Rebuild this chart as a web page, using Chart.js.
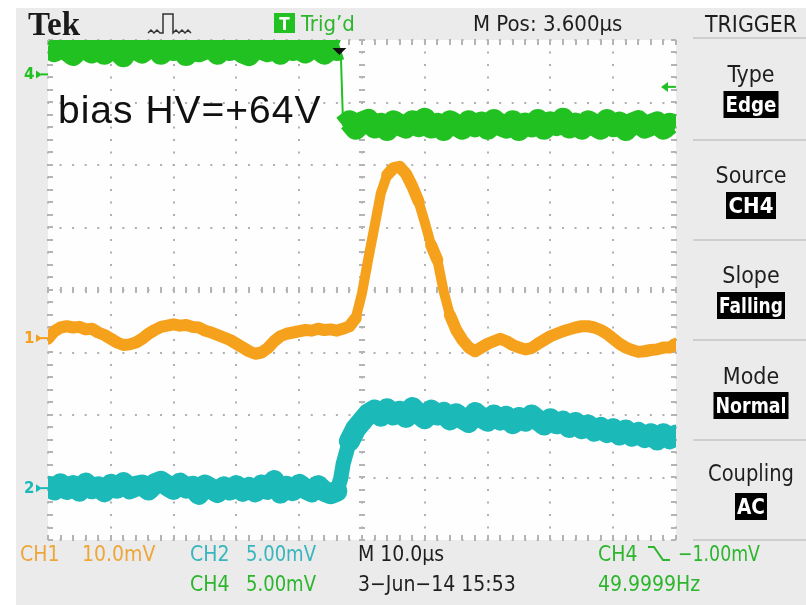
<!DOCTYPE html>
<html>
<head>
<meta charset="utf-8">
<script src="https://cdn.jsdelivr.net/npm/chart.js@4.4.1/dist/chart.umd.min.js"></script>
<style>
  html, body { margin: 0; padding: 0; background: #ffffff; }
  canvas { display: block; }
</style>
</head>
<body>
<canvas id="scope" width="806" height="605"></canvas>
<script>
// time base, microseconds from screen centre (10 us/div)
var timeUs = [
  -50,-49,-48,-47,-46,-45,-44,-43,-42,-41,
  -40,-39,-38,-37,-36,-35,-34,-33,-32,-31,
  -30,-29,-28,-27,-26,-25,-24,-23,-22,-21,
  -20,-19,-18,-17,-16,-15,-14,-13,-12,-11,
  -10,-9,-8,-7,-6,-5,-4,-3.4,
  -3,-2,-1,0,1,2,3,4,5,6,
  7,8,9,10,11,12,13,14,15,16,
  17,18,19,20,21,22,23,24,25,26,
  27,28,29,30,31,32,33,34,35,36,
  37,38,39,40,41,42,43,44,45,46,
  47,48,49,50
];

// trace positions in screen divisions (centre = 0)
var ch4 = [
  3.90,3.82,3.92,3.84,3.76,3.90,3.86,3.80,3.92,3.78,
  3.88,3.84,3.74,3.90,3.86,3.80,3.88,3.92,3.78,3.86,
  3.84,3.90,3.76,3.88,3.82,3.86,3.90,3.78,3.88,3.84,
  3.92,3.80,3.76,3.88,3.86,3.82,3.90,3.78,3.88,3.84,
  3.86,3.80,3.90,3.86,3.78,3.88,3.84,3.86,
  2.62,2.70,2.58,2.68,2.72,2.60,2.66,2.56,2.70,2.64,
  2.60,2.70,2.62,2.74,2.60,2.66,2.56,2.70,2.64,2.58,
  2.70,2.62,2.68,2.58,2.72,2.64,2.60,2.70,2.56,2.66,
  2.62,2.72,2.58,2.68,2.64,2.74,2.60,2.66,2.58,2.70,
  2.64,2.58,2.72,2.62,2.68,2.56,2.66,2.70,2.60,2.64,
  2.68,2.58,2.66,2.62
];

var ch1 = [
  -0.78,-0.66,-0.60,-0.58,-0.60,-0.59,-0.63,-0.62,-0.68,-0.72,
  -0.78,-0.84,-0.88,-0.87,-0.84,-0.78,-0.70,-0.64,-0.59,-0.57,
  -0.55,-0.57,-0.56,-0.59,-0.60,-0.65,-0.68,-0.72,-0.76,-0.80,
  -0.86,-0.92,-0.98,-1.02,-1.00,-0.93,-0.82,-0.74,-0.70,-0.68,
  -0.66,-0.64,-0.65,-0.62,-0.64,-0.63,-0.65,-0.63,
  -0.62,-0.58,-0.45,-0.05,0.50,1.02,1.55,1.84,1.95,1.97,
  1.86,1.66,1.42,1.08,0.72,0.48,-0.02,-0.40,-0.64,-0.80,
  -0.92,-0.98,-0.92,-0.86,-0.82,-0.78,-0.82,-0.88,-0.92,-0.95,
  -0.93,-0.86,-0.80,-0.74,-0.70,-0.66,-0.63,-0.60,-0.58,-0.58,
  -0.60,-0.64,-0.70,-0.78,-0.86,-0.92,-0.96,-0.99,-0.98,-0.96,
  -0.95,-0.92,-0.92,-0.86
];

var ch2 = [
  -3.14,-3.20,-3.10,-3.19,-3.13,-3.22,-3.09,-3.18,-3.15,-3.23,
  -3.11,-3.17,-3.08,-3.18,-3.14,-3.12,-3.20,-3.10,-3.06,-3.13,
  -3.19,-3.09,-3.17,-3.14,-3.27,-3.12,-3.18,-3.24,-3.15,-3.20,
  -3.13,-3.22,-3.16,-3.23,-3.12,-3.19,-3.05,-3.25,-3.14,-3.21,
  -3.11,-3.18,-3.23,-3.13,-3.22,-3.26,-3.22,-3.02,
  -2.78,-2.42,-2.22,-2.10,-1.98,-1.92,-2.02,-1.90,-2.00,-1.94,
  -2.04,-1.88,-1.98,-2.06,-1.92,-2.00,-1.96,-2.08,-1.98,-2.06,
  -2.12,-1.96,-2.04,-2.10,-2.00,-2.08,-2.02,-2.14,-2.04,-2.10,
  -2.00,-2.08,-2.16,-2.06,-2.14,-2.10,-2.20,-2.12,-2.22,-2.16,
  -2.26,-2.20,-2.28,-2.22,-2.32,-2.24,-2.34,-2.28,-2.36,-2.30,
  -2.40,-2.30,-2.38,-2.32
];

var GREEN = '#22c122', ORANGE = '#f5a11c', CYAN = '#1cb9b9';
var TXT_GREEN = '#2db52d', TXT_ORANGE = '#eea63a', TXT_CYAN = '#38b5bd';
var COND = '"Liberation Sans Narrow", "DejaVu Sans Condensed", "Roboto", sans-serif';

function pts(ys) {
  return timeUs.map(function (t, i) { return { x: t, y: ys[i] }; });
}

// thinner stroke on steep edges, like the scope's fast transitions
function edgeWidth(flat, steep, limit) {
  return function (c) {
    return Math.abs(c.p1.parsed.y - c.p0.parsed.y) > limit ? steep : flat;
  };
}

function txt(ctx, s, x, y, size, color, maxW, align, weight) {
  ctx.font = (weight || '') + ' ' + size + 'px ' + COND;
  ctx.fillStyle = color;
  ctx.textAlign = align || 'left';
  ctx.textBaseline = 'alphabetic';
  ctx.fillText(s, x, y, maxW);
}

function boxTxt(ctx, s, cx, top, w) {
  ctx.fillStyle = '#000000';
  ctx.fillRect(cx - w / 2, top, w, 27);
  txt(ctx, s, cx, top + 21, 22, '#ffffff', w - 4, 'center', 'bold');
}

function chMarker(ctx, label, y, color) {
  ctx.fillStyle = color;
  ctx.font = 'bold 15px "DejaVu Sans"';
  ctx.textAlign = 'left';
  ctx.textBaseline = 'middle';
  ctx.fillText(label, 24, y + 1);
  ctx.beginPath();
  ctx.moveTo(36, y - 4); ctx.lineTo(42, y); ctx.lineTo(36, y + 4);
  ctx.closePath(); ctx.fill();
  ctx.fillRect(41, y - 1, 7, 2);
}

var scopePlugin = {
  id: 'scope',
  beforeDraw: function (chart) {
    var ctx = chart.ctx, a = chart.chartArea;
    ctx.save();
    ctx.fillStyle = '#ffffff';
    ctx.fillRect(0, 0, 806, 605);
    ctx.fillStyle = '#ebebeb';
    ctx.fillRect(16, 8, 790, 597);
    ctx.fillStyle = '#fefefe';
    ctx.fillRect(a.left, a.top, a.right - a.left, a.bottom - a.top);
    // menu separators
    ctx.strokeStyle = '#c4c4c4';
    ctx.lineWidth = 1.5;
    [38, 140, 240, 340, 440, 540].forEach(function (y) {
      ctx.beginPath(); ctx.moveTo(693, y); ctx.lineTo(806, y); ctx.stroke();
    });
    ctx.restore();
  },
  beforeDatasetsDraw: function (chart) {
    var ctx = chart.ctx, a = chart.chartArea;
    var xs = chart.scales.x, ys = chart.scales.y;
    ctx.save();
    ctx.fillStyle = '#b4b4b4';
    var x0 = xs.getPixelForValue(0), y0 = ys.getPixelForValue(0);
    for (var t = -50; t <= 50; t += 2) {
      var px = Math.round(xs.getPixelForValue(t));
      ctx.fillRect(px - 1, a.top, 2, 5);
      ctx.fillRect(px - 1, a.bottom - 5, 2, 5);
      ctx.fillRect(px - 1, y0 - 3, 2, 6);
    }
    for (var d = -4; d <= 4.001; d += 0.2) {
      var py = Math.round(ys.getPixelForValue(d));
      ctx.fillRect(a.left, py - 1, 5, 2);
      ctx.fillRect(a.right - 5, py - 1, 5, 2);
      ctx.fillRect(x0 - 3, py - 1, 6, 2);
    }
    ctx.restore();
  },
  afterDatasetsDraw: function (chart) {
    var ctx = chart.ctx, a = chart.chartArea;
    var xs = chart.scales.x, ys = chart.scales.y;
    ctx.save();
    // trigger position
    var tx = xs.getPixelForValue(-3.6);
    ctx.fillStyle = '#111111';
    ctx.beginPath();
    ctx.moveTo(tx - 7, a.top + 8); ctx.lineTo(tx + 7, a.top + 8); ctx.lineTo(tx, a.top + 15);
    ctx.closePath(); ctx.fill();
    // trigger level (CH4, -1.00 mV at 5 mV/div)
    var ty = ys.getPixelForValue(3.45 - 0.2);
    ctx.fillStyle = GREEN;
    ctx.beginPath();
    ctx.moveTo(a.right - 15, ty); ctx.lineTo(a.right - 8, ty - 5); ctx.lineTo(a.right - 8, ty + 5);
    ctx.closePath(); ctx.fill();
    ctx.fillRect(a.right - 9, ty - 1, 9, 2);
    // annotation
    ctx.fillStyle = '#111111';
    ctx.font = '39px "Liberation Sans", Arial, sans-serif';
    ctx.textAlign = 'left';
    ctx.textBaseline = 'alphabetic';
    ctx.letterSpacing = '1px';
    ctx.fillText('bias HV=+64V', 58, 123);
    ctx.letterSpacing = '0px';
    ctx.restore();
  },
  afterDraw: function (chart) {
    var ctx = chart.ctx, ys = chart.scales.y;
    ctx.save();
    // ground markers
    chMarker(ctx, '4', ys.getPixelForValue(3.45), GREEN);
    chMarker(ctx, '1', ys.getPixelForValue(-0.77), ORANGE);
    chMarker(ctx, '2', ys.getPixelForValue(-3.17), CYAN);

    // header
    ctx.font = 'bold 33px "Liberation Serif", "DejaVu Serif", serif';
    ctx.fillStyle = '#1a1a1a';
    ctx.textAlign = 'left';
    ctx.textBaseline = 'alphabetic';
    ctx.fillText('Tek', 28, 35, 55);
    ctx.strokeStyle = '#333333';
    ctx.lineWidth = 1.5;
    ctx.beginPath();
    ctx.moveTo(148, 33); ctx.lineTo(151, 30); ctx.lineTo(154, 33); ctx.lineTo(157, 30);
    ctx.lineTo(160, 33); ctx.lineTo(163, 33); ctx.lineTo(163, 14); ctx.lineTo(173, 14);
    ctx.lineTo(173, 33); ctx.lineTo(176, 30); ctx.lineTo(179, 33); ctx.lineTo(182, 30);
    ctx.lineTo(185, 33); ctx.lineTo(188, 30); ctx.lineTo(191, 33);
    ctx.stroke();
    ctx.fillStyle = GREEN;
    ctx.fillRect(274, 13, 21, 20);
    txt(ctx, 'T', 284.5, 30, 17, '#ffffff', 14, 'center', 'bold');
    txt(ctx, 'Trig\u2019d', 301, 31, 22, TXT_GREEN, 64);
    txt(ctx, 'M Pos: 3.600\u00b5s', 473, 31, 22, '#1e1e1e', 159);
    txt(ctx, 'TRIGGER', 751, 32, 23, '#1e1e1e', 92, 'center');

    // trigger menu
    txt(ctx, 'Type', 751, 82, 23, '#1e1e1e', 60, 'center');
    boxTxt(ctx, 'Edge', 751, 91, 55);
    txt(ctx, 'Source', 751, 183, 23, '#1e1e1e', 72, 'center');
    boxTxt(ctx, 'CH4', 751, 192, 50);
    txt(ctx, 'Slope', 751, 283, 23, '#1e1e1e', 60, 'center');
    boxTxt(ctx, 'Falling', 751, 292, 68);
    txt(ctx, 'Mode', 751, 384, 23, '#1e1e1e', 60, 'center');
    boxTxt(ctx, 'Normal', 751, 392, 75);
    txt(ctx, 'Coupling', 751, 481, 23, '#1e1e1e', 86, 'center');
    boxTxt(ctx, 'AC', 751, 493, 32);

    // readouts
    txt(ctx, 'CH1', 20, 561, 21, TXT_ORANGE, 44);
    txt(ctx, '10.0mV', 82, 561, 21, TXT_ORANGE, 76);
    txt(ctx, 'CH2', 190, 561, 21, TXT_CYAN, 42);
    txt(ctx, '5.00mV', 246, 561, 21, TXT_CYAN, 70);
    txt(ctx, 'M 10.0\u00b5s', 358, 561, 21, '#1e1e1e', 88);
    txt(ctx, 'CH4', 598, 561, 21, TXT_GREEN, 42);
    ctx.strokeStyle = TXT_GREEN;
    ctx.lineWidth = 2;
    ctx.beginPath();
    ctx.moveTo(648, 547); ctx.lineTo(654, 547); ctx.lineTo(663, 560); ctx.lineTo(670, 560);
    ctx.stroke();
    txt(ctx, '\u22121.00mV', 678, 561, 21, TXT_GREEN, 82);
    txt(ctx, 'CH4', 190, 591, 21, TXT_GREEN, 42);
    txt(ctx, '5.00mV', 246, 591, 21, TXT_GREEN, 70);
    txt(ctx, '3\u2212Jun\u221214 15:53', 358, 591, 21, '#1e1e1e', 170);
    txt(ctx, '49.9999Hz', 598, 591, 21, TXT_GREEN, 118);
    ctx.restore();
  }
};

var gridX = { color: '#b0b0b0', lineWidth: 2, drawTicks: false };
var gridY = { color: '#b0b0b0', lineWidth: 2, drawTicks: false };

var chart = new Chart(document.getElementById('scope'), {
  type: 'line',
  data: {
    datasets: [
      {
        label: 'CH4',
        data: pts(ch4),
        borderColor: GREEN,
        borderWidth: 22,
        borderCapStyle: 'butt',
        clip: 0,
        segment: { borderWidth: edgeWidth(22, 2, 0.8) }
      },
      {
        label: 'CH1',
        data: pts(ch1),
        borderColor: ORANGE,
        borderWidth: 12,
        borderCapStyle: 'round',
        clip: 0,
        segment: { borderWidth: edgeWidth(12, 10, 0.25) }
      },
      {
        label: 'CH2',
        data: pts(ch2),
        borderColor: CYAN,
        borderWidth: 21,
        borderCapStyle: 'round',
        clip: 0,
        segment: { borderWidth: edgeWidth(21, 15, 0.2) }
      }
    ]
  },
  options: {
    responsive: false,
    animation: false,
    devicePixelRatio: 1,
    layout: { padding: { left: 48, right: 130, top: 40, bottom: 65 } },
    elements: {
      point: { radius: 0 },
      line: { tension: 0, borderJoinStyle: 'round', fill: false }
    },
    plugins: { legend: { display: false }, tooltip: { enabled: false } },
    scales: {
      x: {
        type: 'linear', min: -50, max: 50,
        ticks: { display: false, stepSize: 10 },
        grid: gridX,
        border: { display: false, dash: [2, 10.5], dashOffset: 1 }
      },
      y: {
        type: 'linear', min: -4, max: 4,
        ticks: { display: false, stepSize: 1 },
        grid: gridY,
        border: { display: false, dash: [2, 10.56], dashOffset: 1 }
      }
    }
  },
  plugins: [scopePlugin]
});
</script>
</body>
</html>
